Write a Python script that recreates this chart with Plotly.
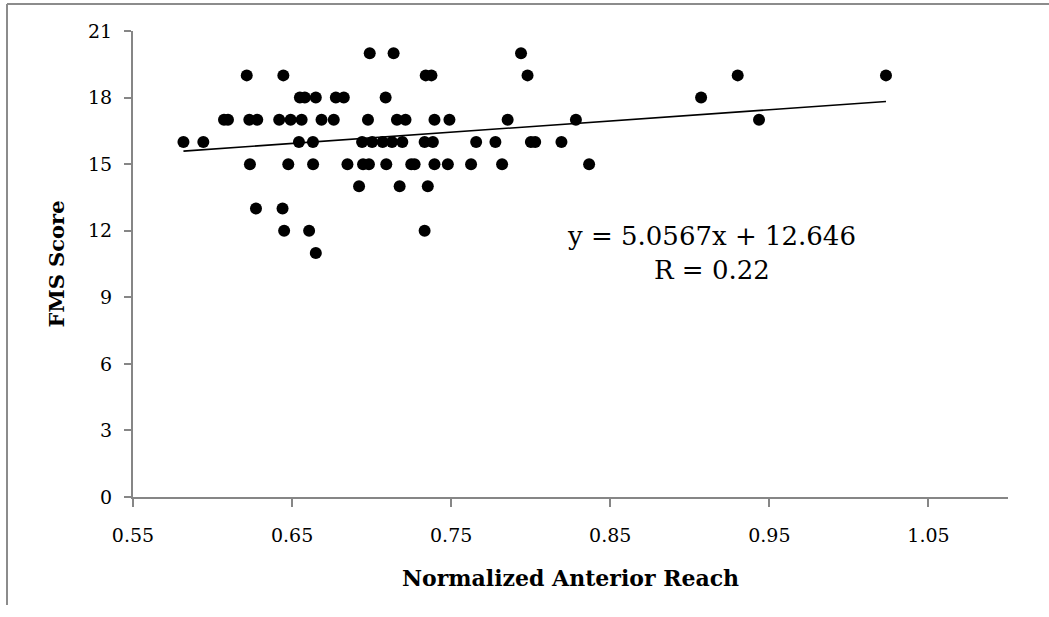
import plotly.graph_objects as go

# Data (Normalized Anterior Reach vs FMS Score)
reach_20 = [0.6988, 0.7138, 0.7939]
reach_19 = [0.6215, 0.6445, 0.7340, 0.7376, 0.7980, 0.9301, 1.0233]
reach_18 = [0.6549, 0.6580, 0.6649, 0.6775, 0.6825, 0.7088, 0.9071]
reach_17 = [0.6072, 0.6097, 0.6231, 0.6281, 0.6419, 0.6491, 0.6560, 0.6685, 0.6762,
            0.6977, 0.7159, 0.7213, 0.7395, 0.7489, 0.7855, 0.8284, 0.9435]
reach_16 = [0.5817, 0.5942, 0.6543, 0.6631, 0.6940, 0.7003, 0.7069, 0.7128, 0.7193,
            0.7333, 0.7385, 0.7657, 0.7778, 0.8001, 0.8028, 0.8193]
reach_15 = [0.6235, 0.6476, 0.6632, 0.6848, 0.6946, 0.6983, 0.7092, 0.7249, 0.7270,
            0.7395, 0.7479, 0.7625, 0.7820, 0.8367]
reach_14 = [0.6921, 0.7176, 0.7353]
reach_13 = [0.6273, 0.6440]
reach_12 = [0.6450, 0.6607, 0.7333]
reach_11 = [0.6649]

groups = [(20, reach_20), (19, reach_19), (18, reach_18), (17, reach_17), (16, reach_16),
          (15, reach_15), (14, reach_14), (13, reach_13), (12, reach_12), (11, reach_11)]
reach = []
fms = []
for score, xs in groups:
    reach += xs
    fms += [score] * len(xs)

slope = 5.0567
intercept = 12.646
r_value = 0.22

x_ticks = [0.55, 0.65, 0.75, 0.85, 0.95, 1.05]
y_ticks = [0, 3, 6, 9, 12, 15, 18, 21]

fig = go.Figure()
fig.add_trace(go.Scatter(x=reach, y=fms, mode="markers",
                         marker=dict(color="black", size=12, line=dict(width=0)),
                         showlegend=False))
x_min, x_max = min(reach), max(reach)
fig.add_trace(go.Scatter(x=[x_min, x_max], y=[slope * x_min + intercept, slope * x_max + intercept],
                         mode="lines", line=dict(color="black", width=1.6), showlegend=False))

tick_font = dict(family="DejaVu Serif", size=19, color="black")

fig.update_layout(
    width=1049, height=617,
    margin=dict(l=133, r=41, t=31, b=120),
    paper_bgcolor="white", plot_bgcolor="white",
    xaxis=dict(range=[0.55, 1.1], tickvals=x_ticks, ticktext=[f"{v:.2f}" for v in x_ticks],
               showgrid=False, zeroline=False, showline=True, linecolor="#868686", linewidth=2,
               ticks="outside", ticklen=8, tickcolor="#868686", tickwidth=1.5,
               tickfont=tick_font, ticklabelstandoff=12,
               title=dict(text="<b>Normalized Anterior Reach</b>",
                          font=dict(family="DejaVu Serif", size=22, color="black"), standoff=26)),
    yaxis=dict(range=[0, 21], tickvals=y_ticks, showgrid=False, zeroline=False,
               showline=True, linecolor="#868686", linewidth=2,
               ticks="outside", ticklen=7, tickcolor="#868686", tickwidth=1.5,
               tickfont=tick_font, ticklabelstandoff=8,
               title=dict(text="<b>FMS Score</b>",
                          font=dict(family="DejaVu Serif", size=21, color="black"), standoff=18)),
    annotations=[
        dict(x=0.9138, y=11.75, xref="x", yref="y", showarrow=False,
             text=f"y = {slope}x + {intercept}",
             font=dict(family="DejaVu Serif", size=26, color="black")),
        dict(x=0.9138, y=10.22, xref="x", yref="y", showarrow=False,
             text=f"R = {r_value}",
             font=dict(family="DejaVu Serif", size=26, color="black")),
    ],
    shapes=[
        dict(type="line", xref="paper", yref="paper", x0=-0.144, x1=-0.144, y0=1.058, y1=-0.232,
             line=dict(color="#8c8c8c", width=2)),
        dict(type="line", xref="paper", yref="paper", x0=-0.144, x1=1.05, y0=1.058, y1=1.058,
             line=dict(color="#8c8c8c", width=2)),
    ],
)

fig.write_html("out.html", config={"displayModeBar": False},
               post_script="document.body.style.margin='0';document.body.style.overflow='hidden';")
